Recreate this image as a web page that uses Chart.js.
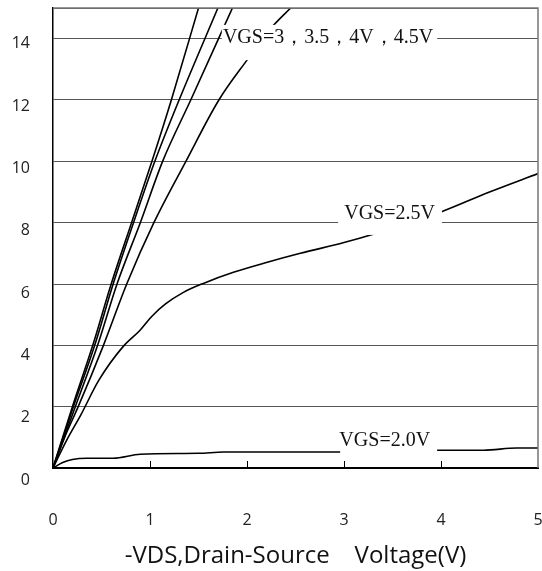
<!DOCTYPE html>
<html>
<head>
<meta charset="utf-8">
<script src="https://cdn.jsdelivr.net/npm/chart.js@4"></script>
<style>
  html, body { margin: 0; padding: 0; background: #fff; }
  #wrap { width: 542px; height: 571px; }
</style>
</head>
<body>
<div id="wrap"><canvas id="chart"></canvas></div>
<script>
// -VDS (V) / -ID (A)
const vds45 = [0, 0.20, 0.41, 0.60, 0.81, 1.02, 1.22, 1.50];
const id45  = [0, 2.0, 4.0, 6.0, 8.0, 10.0, 12.0, 15.0];

const vds40 = [0, 0.21, 0.43, 0.62, 0.83, 1.05, 1.30, 1.70];
const id40  = [0, 2.0, 4.0, 6.0, 8.0, 10.0, 12.0, 15.0];

const vds35 = [0, 0.23, 0.46, 0.66, 0.90, 1.13, 1.42, 1.85];
const id35  = [0, 2.0, 4.0, 6.0, 8.0, 10.0, 12.0, 15.0];

const vds30 = [0, 0.12, 0.26, 0.52, 0.76, 1.04, 1.37, 1.71, 2.00, 2.25, 2.45];
const id30  = [0, 1.0, 2.0, 4.0, 6.0, 8.0, 10.0, 12.0, 13.3, 14.35, 15.0];

const vds25 = [0, 0.14, 0.29, 0.47, 0.72, 0.90, 1.02, 1.16, 1.34, 1.55, 1.86, 2.20, 2.55, 3.00, 3.30, 4.00, 4.50, 5.00];
const id25  = [0, 0.9, 1.75, 2.85, 3.95, 4.5, 4.95, 5.35, 5.72, 6.02, 6.38, 6.70, 7.00, 7.35, 7.62, 8.35, 9.00, 9.60];

const vds20 = [0, 0.10, 0.20, 0.35, 0.62, 0.90, 1.50, 1.76, 3.00, 3.96, 4.44, 4.78, 5.00];
const id20  = [0, 0.18, 0.28, 0.32, 0.32, 0.45, 0.48, 0.52, 0.52, 0.58, 0.58, 0.65, 0.65];

const xTicks = [0, 1, 2, 3, 4, 5];
const yTicks = [0, 2, 4, 6, 8, 10, 12, 14];

const curveLabels = [
  { text: 'VGS=3，3.5，4V，4.5V', x: 2.835, y: 14.04, box: [1.74, 3.96, 13.3, 14.45] },
  { text: 'VGS=2.5V',            x: 3.47,  y: 8.30,  box: [2.94, 4.01, 7.60, 8.70] },
  { text: 'VGS=2.0V',            x: 3.42,  y: 0.88,  box: [2.96, 3.96, 0.33, 1.24] }
];

function pts(xs, ys) {
  return xs.map((x, i) => ({ x: x, y: ys[i] }));
}

function curve(xs, ys) {
  return {
    data: pts(xs, ys),
    borderColor: '#000',
    borderWidth: 1.6,
    pointRadius: 0,
    fill: false,
    cubicInterpolationMode: 'monotone'
  };
}

const sans = '"Open Sans", Lato, sans-serif';

const decor = {
  id: 'decor',
  afterDatasetsDraw(chart) {
    const { ctx, chartArea: a, scales: { x, y } } = chart;
    ctx.save();

    // top and right frame
    ctx.strokeStyle = '#777';
    ctx.lineWidth = 1.5;
    ctx.beginPath();
    ctx.moveTo(a.left, a.top);
    ctx.lineTo(a.right, a.top);
    ctx.lineTo(a.right, a.bottom);
    ctx.stroke();

    // small inside ticks on the x axis
    ctx.strokeStyle = '#000';
    ctx.lineWidth = 1;
    xTicks.slice(1, -1).forEach(v => {
      const px = Math.round(x.getPixelForValue(v)) + 0.5;
      ctx.beginPath();
      ctx.moveTo(px, a.bottom);
      ctx.lineTo(px, a.bottom - 7);
      ctx.stroke();
    });

    // curve labels on white boxes
    ctx.font = '20px "Liberation Serif", "Times New Roman", serif';
    ctx.textAlign = 'center';
    ctx.textBaseline = 'middle';
    curveLabels.forEach(l => {
      const [x1, x2, y1, y2] = l.box;
      const bx = x.getPixelForValue(x1), ex = x.getPixelForValue(x2);
      const by = y.getPixelForValue(y2), ey = y.getPixelForValue(y1);
      ctx.fillStyle = '#fff';
      ctx.fillRect(bx, by, ex - bx, ey - by);
      ctx.fillStyle = '#111';
      ctx.fillText(l.text, x.getPixelForValue(l.x), y.getPixelForValue(l.y));
    });

    // y tick labels (they sit a little under their gridlines)
    ctx.font = '16px ' + sans;
    ctx.textAlign = 'right';
    ctx.fillStyle = '#222';
    yTicks.forEach(v => {
      ctx.fillText(String(v), 30, y.getPixelForValue(v) + 5 + (14 - v) * 0.5);
    });

    ctx.restore();
  }
};

new Chart(document.getElementById('chart'), {
  type: 'line',
  data: {
    datasets: [
      curve(vds45, id45),
      curve(vds40, id40),
      curve(vds35, id35),
      curve(vds30, id30),
      curve(vds25, id25),
      curve(vds20, id20)
    ]
  },
  options: {
    responsive: true,
    maintainAspectRatio: false,
    animation: false,
    layout: { padding: { top: 8, right: 4, left: 0, bottom: 0 } },
    plugins: {
      legend: { display: false },
      tooltip: { enabled: false }
    },
    scales: {
      x: {
        type: 'linear',
        min: 0,
        max: 5,
        afterFit: s => { s.height = 103; s.paddingRight = 4; },
        ticks: {
          stepSize: 1,
          padding: 0,
          color: '#222',
          font: { family: sans, size: 16 }
        },
        grid: { display: false, drawTicks: true, tickLength: 43 },
        border: { display: true, color: '#000', width: 2 },
        title: {
          display: true,
          text: '-VDS,Drain-Source    Voltage(V)',
          color: '#111',
          font: { family: sans, size: 24 },
          padding: { top: 0, bottom: 0 }
        }
      },
      y: {
        min: 0,
        max: 15,
        afterFit: s => { s.width = 53; },
        ticks: { stepSize: 2, display: false },
        grid: { color: '#555', lineWidth: 1, drawTicks: false },
        border: { display: true, color: '#000', width: 1.5 }
      }
    }
  },
  plugins: [decor]
});
</script>
</body>
</html>
